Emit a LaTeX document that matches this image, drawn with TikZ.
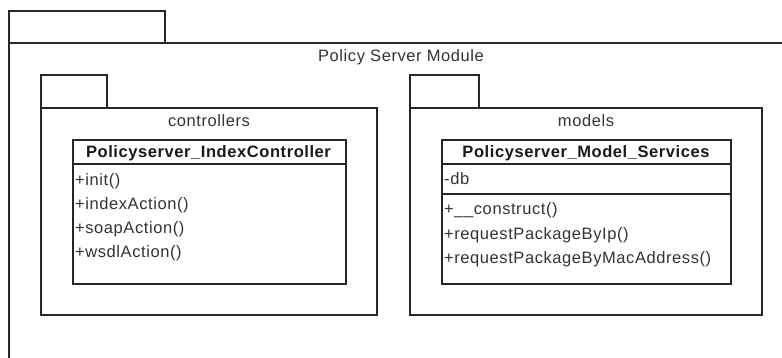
\documentclass[tikz,border=0pt]{standalone}
\usepackage{fontspec}
\setmainfont{Liberation Sans}[LetterSpace=3.5]
\begin{document}
\begin{tikzpicture}[x=1pt,y=-1pt,
  frame/.style={draw=black!85, line width=1.3pt, inner sep=0pt, outer sep=0pt, anchor=north west},
  lbl/.style={text=black!80, font=\fontsize{16.5}{20}\selectfont, inner sep=0pt},
  hdr/.style={text=black!90, font=\fontsize{16.5}{20}\selectfont\bfseries, inner sep=0pt},
  member/.style={lbl, anchor=base west},
  sep/.style={draw=black!85, line width=1.3pt}]
\useasboundingbox (0,0) rectangle (782,358);
\clip (0,0) rectangle (782,358);

% outer package: tab and body running past the page edge
\node[frame, minimum width=156pt, minimum height=32pt] (outerTab) at (9,11) {};
\node[frame, minimum width=800pt, minimum height=340pt] (outerBody) at (9,43) {};
\node[lbl] (outerName) at (401,57) {Policy Server Module};

% controllers package
\node[frame, minimum width=66pt, minimum height=33pt] (ctrlTab) at (41,75) {};
\node[frame, minimum width=336pt, minimum height=207pt] (ctrlBody) at (41,108) {};
\node[lbl] (ctrlName) at (209,121) {controllers};

% class Policyserver_IndexController
\node[frame, minimum width=273pt, minimum height=144pt] (idxCls) at (73,140) {};
\node[hdr] (idxName) at (208.5,153) {Policyserver\_IndexController};
\coordinate (idxSepL) at (idxCls.west |- 0,164);
\coordinate (idxSepR) at (idxCls.east |- 0,164);
\draw[sep] (idxSepL) -- (idxSepR);
\node[member] (m1) at (75,186) {+init()};
\node[member] (m2) at (75,210) {+indexAction()};
\node[member] (m3) at (75,234) {+soapAction()};
\node[member] (m4) at (75,258) {+wsdlAction()};

% models package
\node[frame, minimum width=69pt, minimum height=33pt] (modTab) at (410,75) {};
\node[frame, minimum width=352pt, minimum height=207pt] (modBody) at (410,108) {};
\node[lbl] (modName) at (586,121) {models};

% class Policyserver_Model_Services
\node[frame, minimum width=289pt, minimum height=144pt] (svcCls) at (442,140) {};
\node[hdr] (svcName) at (586,153) {Policyserver\_Model\_Services};
\coordinate (svcSepAL) at (svcCls.west |- 0,164);
\coordinate (svcSepAR) at (svcCls.east |- 0,164);
\coordinate (svcSepBL) at (svcCls.west |- 0,194);
\coordinate (svcSepBR) at (svcCls.east |- 0,194);
\draw[sep] (svcSepAL) -- (svcSepAR);
\draw[sep] (svcSepBL) -- (svcSepBR);
\node[member] (a1) at (444,185) {-db};
\node[member] (o1) at (444,215) {+\_\_construct()};
\node[member] (o2) at (444,240) {+requestPackageByIp()};
\node[member] (o3) at (444,264) {+requestPackageByMacAddress()};
\end{tikzpicture}
\end{document}
